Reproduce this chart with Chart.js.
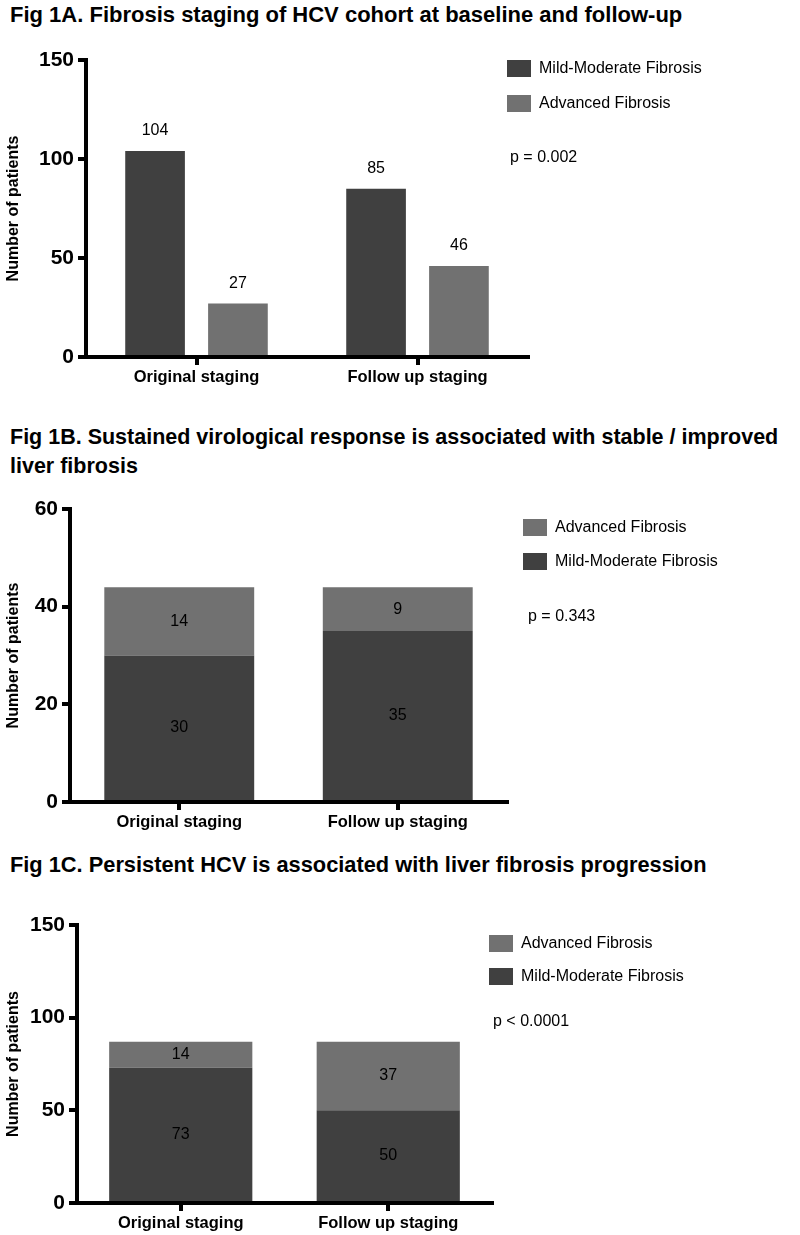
<!DOCTYPE html>
<html>
<head>
<meta charset="utf-8">
<script src="https://cdn.jsdelivr.net/npm/chart.js@4/dist/chart.umd.min.js"></script>
<style>
  body { margin: 0; background: #fff; width: 800px; height: 1235px; position: relative; overflow: hidden;
         font-family: 'Liberation Sans', Arial, sans-serif; }
  .titulo { position: absolute; left: 10px; font-weight: bold; font-size: 22px; line-height: 29px;
            color: #000; white-space: nowrap; }
  canvas { position: absolute; left: 0; }
</style>
</head>
<body>
<div class="titulo" style="top:0px">Fig 1A. Fibrosis staging of HCV cohort at baseline and follow-up</div>
<canvas id="fig1a" width="800" height="375" style="top:35px"></canvas>

<div class="titulo" style="top:423px;font-size:21.5px">Fig 1B. Sustained virological response is associated with stable / improved<br>liver fibrosis</div>
<canvas id="fig1b" width="800" height="360" style="top:480px"></canvas>

<div class="titulo" style="top:850px;font-size:21.8px">Fig 1C. Persistent HCV is associated with liver fibrosis progression</div>
<canvas id="fig1c" width="800" height="340" style="top:895px"></canvas>

<script>
// datos
const etapas = ['Original staging', 'Follow up staging'];
const series = ['Mild-Moderate Fibrosis', 'Advanced Fibrosis'];

// Fig 1A - cohorte completa
const leveA = [104, 85];
const avanzadaA = [27, 46];
const ticksA = [0, 50, 100, 150];

// Fig 1B - respuesta virologica sostenida
const leveB = [30, 35];
const avanzadaB = [14, 9];
const ticksB = [0, 20, 40, 60];

// Fig 1C - VHC persistente
const leveC = [73, 50];
const avanzadaC = [14, 37];
const ticksC = [0, 50, 100, 150];

const valoresP = ['p = 0.002', 'p = 0.343', 'p < 0.0001'];

const colorLeve = '#404040';
const colorAvanzada = '#717171';
const fuente = "'Liberation Sans', Arial, sans-serif";

Chart.defaults.font.family = fuente;
Chart.defaults.color = '#000';

// numeros sobre / dentro de las barras
const etiquetasPlugin = {
  id: 'etiquetas',
  afterDatasetsDraw(chart, args, opts) {
    const ctx = chart.ctx;
    ctx.save();
    ctx.font = '16px ' + fuente;
    ctx.fillStyle = '#000';
    ctx.textAlign = 'center';
    ctx.textBaseline = 'middle';
    chart.data.datasets.forEach((ds, i) => {
      chart.getDatasetMeta(i).data.forEach((barra, j) => {
        const y = opts.encima ? barra.y - 20 : (barra.y + barra.base) / 2;
        ctx.fillText(ds.data[j], barra.x, y);
      });
    });
    ctx.restore();
  }
};

// leyenda a la derecha + valor p
const leyendaPlugin = {
  id: 'leyenda',
  afterDraw(chart, args, opts) {
    const ctx = chart.ctx;
    ctx.save();
    ctx.font = '16px ' + fuente;
    ctx.textBaseline = 'middle';
    ctx.textAlign = 'left';
    opts.orden.forEach((idx, k) => {
      const ds = chart.data.datasets[idx];
      const y = opts.y + k * opts.paso;
      ctx.fillStyle = ds.backgroundColor;
      ctx.fillRect(opts.x, y, 24, 17);
      ctx.fillStyle = '#000';
      ctx.fillText(ds.label, opts.x + 32, y + 9);
    });
    ctx.fillText(opts.p, opts.px, opts.py);
    ctx.restore();
  }
};

function crearGrafico(id, c) {
  const apilado = !c.encima;
  new Chart(document.getElementById(id).getContext('2d'), {
    type: 'bar',
    data: {
      labels: etapas,
      datasets: [
        { label: series[0], data: c.leve, backgroundColor: colorLeve },
        { label: series[1], data: c.avanzada, backgroundColor: colorAvanzada }
      ]
    },
    options: {
      responsive: false,
      animation: false,
      categoryPercentage: c.catPct,
      barPercentage: c.barPct,
      layout: { padding: { left: 0, top: c.arriba, right: c.derecha, bottom: 0 } },
      scales: {
        x: {
          stacked: apilado,
          afterFit: s => { s.height = c.altoX; },
          border: { display: true, color: '#000', width: 4 },
          grid: { offset: false, drawOnChartArea: false, tickLength: 8, lineWidth: 4, color: '#000' },
          ticks: { font: { size: 16.5, weight: 'bold' }, color: '#000', padding: 3, maxRotation: 0, autoSkip: false }
        },
        y: {
          stacked: apilado,
          min: c.ticks[0],
          max: c.ticks[c.ticks.length - 1],
          afterBuildTicks: s => { s.ticks = c.ticks.map(v => ({ value: v })); },
          afterFit: s => { s.width = c.anchoY; },
          border: { display: true, color: '#000', width: 4 },
          grid: { drawOnChartArea: false, tickLength: 8, lineWidth: 4, color: '#000' },
          ticks: { font: { size: 21, weight: 'bold' }, color: '#000', padding: 4 },
          title: { display: true, text: 'Number of patients', font: { size: 16, weight: 'bold' }, color: '#000', padding: { top: 4, bottom: 0 } }
        }
      },
      plugins: {
        legend: { display: false },
        tooltip: { enabled: false },
        etiquetas: { encima: c.encima },
        leyenda: c.leyenda
      }
    },
    plugins: [etiquetasPlugin, leyendaPlugin]
  });
}

crearGrafico('fig1a', {
  leve: leveA, avanzada: avanzadaA, ticks: ticksA, encima: true,
  catPct: 0.75, barPct: 0.72,
  arriba: 25, derecha: 272, anchoY: 86, altoX: 53,
  leyenda: { orden: [0, 1], x: 507, y: 25, paso: 35, p: valoresP[0], px: 510, py: 123 }
});

crearGrafico('fig1b', {
  leve: leveB, avanzada: avanzadaB, ticks: ticksB, encima: false,
  catPct: 1, barPct: 0.686,
  arriba: 29, derecha: 293, anchoY: 70, altoX: 38,
  leyenda: { orden: [1, 0], x: 523, y: 39, paso: 34, p: valoresP[1], px: 528, py: 137 }
});

crearGrafico('fig1c', {
  leve: leveC, avanzada: avanzadaC, ticks: ticksC, encima: false,
  catPct: 1, barPct: 0.69,
  arriba: 30, derecha: 308, anchoY: 77, altoX: 32,
  leyenda: { orden: [1, 0], x: 489, y: 40, paso: 33, p: valoresP[2], px: 493, py: 127 }
});
</script>
</body>
</html>
